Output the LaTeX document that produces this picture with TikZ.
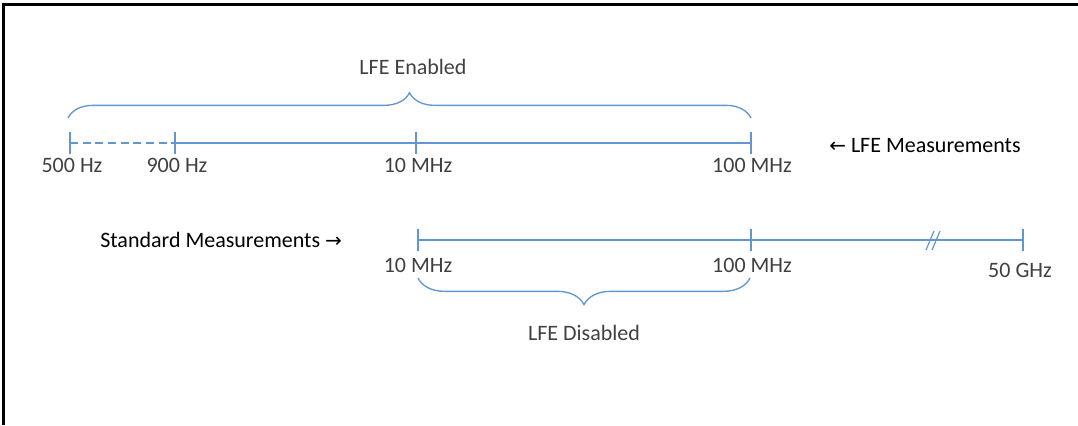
\documentclass[tikz,border=0pt]{standalone}
\usepackage{fontspec}
\setmainfont{Carlito}
\newfontfamily\arrowfont{DejaVu Sans}
\usetikzlibrary{decorations.pathreplacing}

\definecolor{lineblue}{RGB}{98,150,210}
\definecolor{txtgray}{RGB}{64,64,64}

\tikzset{
    axis/.style={draw=lineblue, line width=1.1pt},
    tick/.style={draw=lineblue, line width=1.1pt},
    lbl/.style={text=txtgray, font=\fontsize{16.5}{19}\selectfont, inner sep=0pt},
    meas/.style={text=black, font=\fontsize{16.5}{19}\selectfont, inner sep=0pt},
    bracebig/.style={draw=lineblue, line width=1pt, decorate,
        decoration={brace, amplitude=#1}},
}

\begin{document}
\begin{tikzpicture}[x=0.75pt, y=-0.75pt]
    \useasboundingbox (0,0) rectangle (1078,425);
    % frame
    \draw[line width=1.6pt] (3.5,425) -- (3.5,4.5) -- (1078,4.5);

    % upper axis (LFE)
    \coordinate (u500) at (70,143);
    \coordinate (u900) at (175,143);
    \coordinate (u10M) at (416,143);
    \coordinate (u100M) at (751,143);
    \draw[axis, dash pattern=on 6pt off 3.5pt] (u500) -- (u900);
    \draw[axis] (u900) -- (u100M);
    \foreach \p in {u500,u900,u10M,u100M}
        \draw[tick] ([yshift=-8]\p) -- ([yshift=8]\p);

    \node[lbl] (l500) at (72,165) {500 Hz};
    \node[lbl] (l900) at (177,165) {900 Hz};
    \node[lbl] (l10M) at (418,165) {10 MHz};
    \node[lbl] (l100M) at (752,165) {100 MHz};
    \node[meas, anchor=west] (lfem) at (829,146) {{\arrowfont\fontsize{15}{18}\selectfont ←} LFE Measurements};

    % brace above
    \draw[bracebig=19pt] (68,118) -- (751,118);
    \node[lbl] (enab) at (413,67) {LFE Enabled};

    % lower axis (standard)
    \coordinate (s10M) at (418,240);
    \coordinate (s100M) at (751,240);
    \coordinate (s50G) at (1023,240);
    \draw[axis] (s10M) -- (s50G);
    \foreach \p in {s10M,s100M,s50G}
        \draw[tick] ([yshift=-8]\p) -- ([yshift=8]\p);
    % break
    \draw[axis, line width=0.9pt] (926,250) -- (934,231);
    \draw[axis, line width=0.9pt] (932,250) -- (940,231);

    \node[lbl] (m10M) at (418,265) {10 MHz};
    \node[lbl] (m100M) at (752,265) {100 MHz};
    \node[lbl] (m50G) at (1020,270) {50 GHz};
    \node[meas, anchor=west] (stdm) at (100,240) {Standard Measurements {\arrowfont\fontsize{15}{18}\selectfont →}};

    % brace below
    \draw[bracebig=20pt] (750,278) -- (418,278);
    \node[lbl] (disab) at (584,333) {LFE Disabled};
\end{tikzpicture}
\end{document}
